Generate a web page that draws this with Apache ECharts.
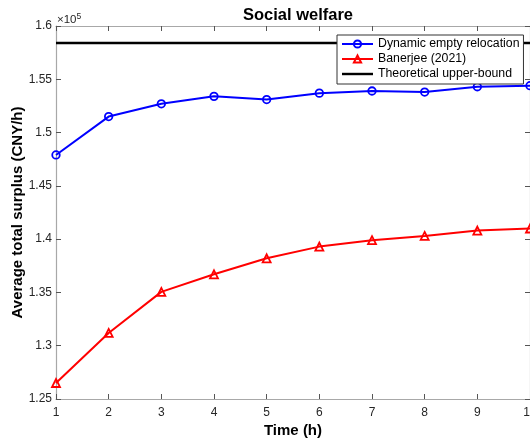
<!DOCTYPE html>
<html>
<head>
<meta charset="utf-8">
<script src="https://cdn.jsdelivr.net/npm/echarts@6/dist/echarts.min.js"></script>
<style>
html,body{margin:0;padding:0;background:#fff;}
#chart{width:530px;height:441px;}
</style>
</head>
<body>
<div id="chart"></div>
<script>
// Data (values in units of 10^5 CNY/h)
var times = [1, 2, 3, 4, 5, 6, 7, 8, 9, 10];
var dynamicRelocation = [1.479, 1.515, 1.527, 1.534, 1.531, 1.537, 1.539, 1.538, 1.543, 1.544];
var banerjee2021 = [1.265, 1.312, 1.3505, 1.367, 1.382, 1.393, 1.399, 1.403, 1.408, 1.410];
var upperBound = [1.584, 1.584, 1.584, 1.584, 1.584, 1.584, 1.584, 1.584, 1.584, 1.584];
var seriesNames = ['Dynamic empty relocation', 'Banerjee (2021)', 'Theoretical upper-bound'];

function pairs(xs, ys){ return xs.map(function(x,i){ return [x, ys[i]]; }); }

var FONT = '"Liberation Sans", Arial, Helvetica, sans-serif';
var axisGray = '#a8a8a8';
var labelColor = '#262626';

var chart = echarts.init(document.getElementById('chart'), null, {renderer:'canvas'});
var option = {
  backgroundColor: '#fff',
  animation: false,
  textStyle: {fontFamily: FONT},
  title: {
    text: 'Social welfare',
    left: 293, top: 2, textAlign: 'center',
    textStyle: {fontFamily: FONT, fontWeight: 'bold', fontSize: 16.5, color: '#000'}
  },
  grid: {left: 56, right: 0, top: 26, bottom: 42, containLabel: false, outerBoundsMode: 'none'},
  legend: {
    orient: 'vertical',
    left: 337, top: 35,
    data: [
      {name: seriesNames[0]},
      {name: seriesNames[1]},
      {name: seriesNames[2], icon: 'path://M0,0 L64,0 L64,5 L0,5 Z'}
    ],
    itemWidth: 31, itemHeight: 9, itemGap: 1,
    padding: [2, 4, 3, 4],
    borderColor: '#333', borderWidth: 1,
    backgroundColor: '#fff',
    textStyle: {fontFamily: FONT, fontSize: 12.3, color: '#000', lineHeight: 14}
  },
  xAxis: [{
    type: 'value', min: 1, max: 10, interval: 1,
    name: 'Time (h)', nameLocation: 'middle', nameGap: 24, nameMoveOverlap: false,
    nameTextStyle: {fontFamily: FONT, fontWeight: 'bold', fontSize: 15, color: '#000'},
    axisLine: {show: true, lineStyle: {color: axisGray, width: 1.2}},
    axisTick: {show: true, inside: true, length: 5, lineStyle: {color: '#555'}},
    axisLabel: {color: labelColor, fontSize: 12, margin: 8, fontFamily: FONT},
    splitLine: {show: false}
  }, {
    type: 'value', min: 1, max: 10, interval: 1, position: 'top',
    axisLine: {show: true, lineStyle: {color: axisGray, width: 1.2}},
    axisTick: {show: true, inside: true, length: 5, lineStyle: {color: '#555'}},
    axisLabel: {show: false},
    splitLine: {show: false}
  }],
  yAxis: [{
    type: 'value', min: 1.25, max: 1.6, interval: 0.05,
    name: 'Average total surplus (CNY/h)', nameLocation: 'middle', nameGap: 31, nameMoveOverlap: false,
    nameTextStyle: {fontFamily: FONT, fontWeight: 'bold', fontSize: 15, color: '#000'},
    axisLine: {show: true, lineStyle: {color: axisGray, width: 1.2}},
    axisTick: {show: true, inside: true, length: 5, lineStyle: {color: '#555'}},
    axisLabel: {color: labelColor, fontSize: 12, margin: 4, fontFamily: FONT,
      formatter: function(v){ return String(parseFloat(v.toFixed(2))); }},
    splitLine: {show: false}
  }, {
    type: 'value', min: 1.25, max: 1.6, interval: 0.05, position: 'right',
    axisLine: {show: true, lineStyle: {color: axisGray, width: 1.2}},
    axisTick: {show: true, inside: true, length: 5, lineStyle: {color: '#555'}},
    axisLabel: {show: false},
    splitLine: {show: false}
  }],
  graphic: [{
    type: 'text', left: 57, top: 12,
    style: {
      text: '{a|×10}{b|5}',
      rich: {
        a: {fontFamily: FONT, fontSize: 11.5, fill: labelColor, verticalAlign: 'bottom', lineHeight: 14},
        b: {fontFamily: FONT, fontSize: 8.5, fill: labelColor, verticalAlign: 'top', lineHeight: 10, padding: [0,0,6,0]}
      }
    }
  }],
  series: [{
    name: seriesNames[2], type: 'line', xAxisIndex: 0, yAxisIndex: 0,
    data: pairs(times, upperBound),
    showSymbol: false, symbol: 'none',
    lineStyle: {color: '#000', width: 2.5},
    itemStyle: {color: '#000'},
    z: 2
  }, {
    name: seriesNames[0], type: 'line', xAxisIndex: 0, yAxisIndex: 0,
    data: pairs(times, dynamicRelocation),
    symbol: 'circle', symbolSize: 7.5,
    lineStyle: {color: '#0000ff', width: 2},
    itemStyle: {color: 'rgba(255,255,255,0)', borderColor: '#0000ff', borderWidth: 1.8},
    z: 3
  }, {
    name: seriesNames[1], type: 'line', xAxisIndex: 0, yAxisIndex: 0,
    data: pairs(times, banerjee2021),
    symbol: 'triangle', symbolSize: 8,
    lineStyle: {color: '#ff0000', width: 2},
    itemStyle: {color: 'rgba(255,255,255,0)', borderColor: '#ff0000', borderWidth: 1.8},
    z: 3
  }]
};
chart.setOption(option);
</script>
</body>
</html>
